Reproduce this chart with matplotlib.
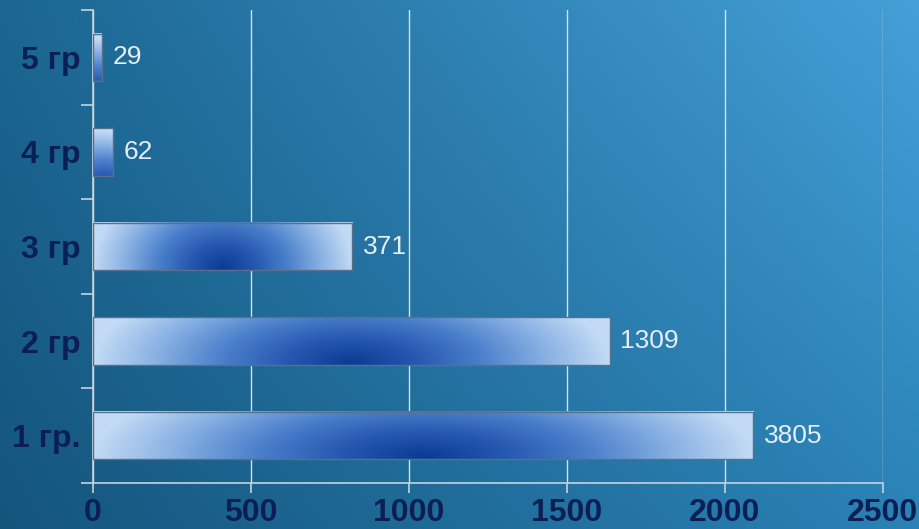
import numpy as np
import matplotlib.pyplot as plt
from matplotlib.colors import LinearSegmentedColormap
from matplotlib.patches import Rectangle

groups = ["1 гр.", "2 гр", "3 гр", "4 гр", "5 гр"]
# bar lengths as drawn on the axis, and the labels printed next to them
bar_lengths = [2090, 1636, 820, 63, 28]
value_labels = ["3805", "1309", "371", "62", "29"]
x_ticks = [0, 500, 1000, 1500, 2000, 2500]

plt.rcParams['font.family'] = ['Liberation Sans', 'DejaVu Sans']

fig = plt.figure(figsize=(9.19, 5.29), dpi=100)

# background gradient
bg = fig.add_axes([0, 0, 1, 1], zorder=0)
yy, xx = np.mgrid[0:1:200j, 0:1:300j]
c_bl = np.array([0x14, 0x55, 0x7c]) / 255
c_tl = np.array([0x1b, 0x66, 0x92]) / 255
c_br = np.array([0x2a, 0x82, 0xb6]) / 255
c_tr = np.array([0x45, 0xa0, 0xd8]) / 255
img = (c_bl[None, None, :] * ((1 - xx) * (1 - yy))[..., None]
       + c_tl[None, None, :] * ((1 - xx) * yy)[..., None]
       + c_br[None, None, :] * (xx * (1 - yy))[..., None]
       + c_tr[None, None, :] * (xx * yy)[..., None])
bg.imshow(img, origin='lower', extent=(0, 1, 0, 1), aspect='auto')
bg.axis('off')

ax = fig.add_axes([93 / 919, 46 / 529, 790 / 919, 473 / 529], zorder=1)
ax.patch.set_alpha(0)

cmap = LinearSegmentedColormap.from_list(
    "bar", ["#0a3c94", "#2558b0", "#4a7fcb", "#86afe2", "#c2daf5"])
h = 0.5
v, u = np.mgrid[0:1:60j, 0:1:300j]
for i, length in enumerate(bar_lengths):
    k = min(length / 800, 1.0)   # 0 for thin bars, 1 for wide ones
    half = max(length / 2, 200)
    dx = (u - 0.5) * length / half
    vdiv = 1.2 + 0.8 * k
    vc = -0.35 * (1 - k) + 0.05 * k
    d = np.sqrt(dx ** 2 + ((v - vc) / vdiv) ** 2)
    d = np.clip(d, 0, 1)
    ax.imshow(cmap(d), origin='lower', aspect='auto',
              extent=(0, length, i - h / 2, i + h / 2), zorder=2)
    rect = Rectangle((0, i - h / 2), length, h, facecolor='none',
                     edgecolor='#5a6f88', linewidth=1, zorder=3)
    ax.add_patch(rect)
    ax.text(length + 33, i, value_labels[i], va='center', ha='left',
            fontsize=19, color='#e6edf5', zorder=4)

ax.set_xlim(0, 2500)
ax.set_ylim(-0.5, 4.5)
ax.set_xticks(x_ticks)
ax.set_xticklabels([str(t) for t in x_ticks], fontsize=23,
                   fontweight='bold', color='#0c1f55')
ax.set_yticks(range(len(groups)))
ax.set_yticklabels(groups, fontsize=23, fontweight='bold', color='#0c1f55')
ax.tick_params(axis='y', length=0, pad=9)
ax.set_yticks(np.arange(-0.5, 5.0, 1.0), minor=True)
ax.tick_params(axis='y', which='minor', length=9, width=1.2,
               color='#c8d2dc', direction='out')
ax.tick_params(axis='x', length=7, width=1.2, color='#c8d2dc', pad=4)

ax.grid(axis='x', color='#d8e0e8', linewidth=1, zorder=1)
ax.set_axisbelow(True)
for s in ['top', 'right']:
    ax.spines[s].set_visible(False)
for s in ['left', 'bottom']:
    ax.spines[s].set_color('#c8d2dc')
    ax.spines[s].set_linewidth(1.2)

fig.savefig("out.png", dpi=100)
